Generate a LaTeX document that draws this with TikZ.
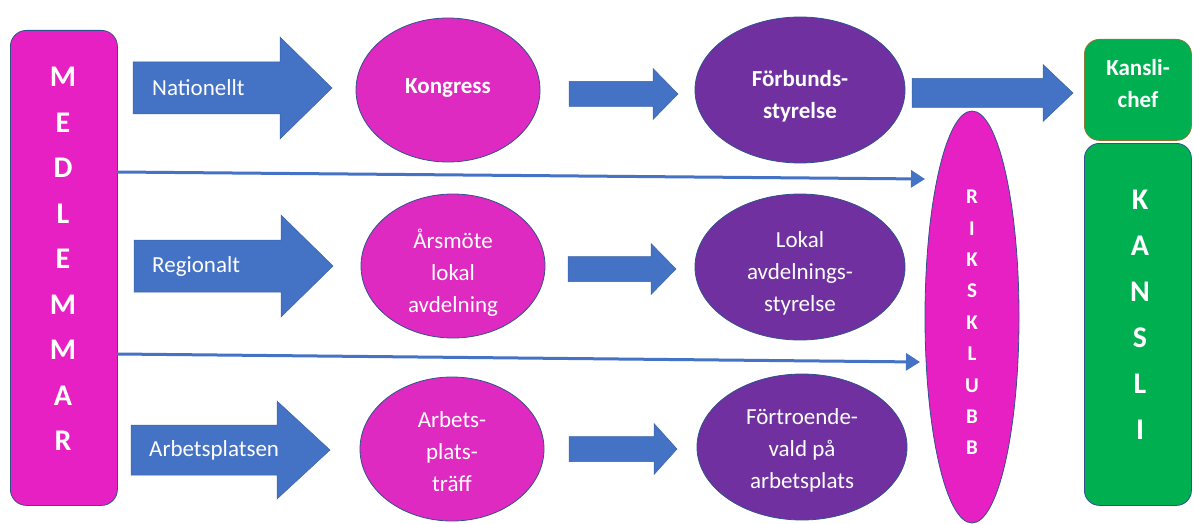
\documentclass[tikz,border=0pt]{standalone}
\usepackage{fontspec}
\setmainfont{Carlito}
\usetikzlibrary{shapes.geometric,arrows.meta}
\definecolor{mag}{RGB}{230,32,194}
\definecolor{magel}{RGB}{222,42,192}
\definecolor{purp}{RGB}{112,48,160}
\definecolor{blu}{RGB}{68,114,196}
\definecolor{grn}{RGB}{0,176,80}
\definecolor{edgeblue}{RGB}{47,82,143}
\definecolor{olivebrd}{RGB}{140,120,50}
\tikzset{
  ell/.style={ellipse, draw=edgeblue, line width=0.8pt, inner sep=0pt},
  magell/.style={ell, fill=magel, minimum width=184pt, minimum height=144pt},
  purpell/.style={ell, fill=purp, minimum width=210pt, minimum height=146pt},
  elltxt/.style={text=white, align=center, inner sep=0pt, font=\fontsize{23}{32}\selectfont},
  elltxtb/.style={elltxt, font=\bfseries\fontsize{23}{32}\selectfont},
  blk/.style={fill=blu, draw=blu!85!black, line width=0.5pt},
  lbl/.style={text=white, font=\fontsize{23}{26}\selectfont, anchor=west, inner sep=0pt},
  memarrow/.style={draw=blu, line width=3pt, -{Triangle[length=14pt,width=17pt]}},
  bigletters/.style={text=white, font=\bfseries\fontsize{30}{45.5}\selectfont, align=center, inner sep=0pt},
  boxgreen/.style={fill=grn, rounded corners=15pt, line width=0.8pt, minimum width=107pt, anchor=north west, inner sep=0pt}
}
\newcommand\blockarrow[6]{%
  \fill[blk] (#1,#4-#5) -- (#2,#4-#5) -- (#2,#4-#6) -- (#3,#4) -- (#2,#4+#6) -- (#2,#4+#5) -- (#1,#4+#5) -- cycle;}
\begin{document}
\begin{tikzpicture}[x=1pt,y=-1pt]
\useasboundingbox (0,0) rectangle (1193,524);
% Medlemmar
\node[draw=edgeblue, fill=mag, line width=0.8pt, rounded corners=16pt, minimum width=107pt, minimum height=475pt, anchor=north west, inner sep=0pt] (med) at (10,30) {};
\node[bigletters] (medtxt) at (63,259) {M\\E\\D\\L\\E\\M\\M\\A\\R};
% block arrows with labels
\blockarrow{133}{280}{332}{88}{26}{51}
\node[lbl] (nat) at (152,88) {Nationellt};
\blockarrow{134}{281}{333}{266}{26}{51}
\node[lbl] (reg) at (152,266) {Regionalt};
\blockarrow{131}{277}{330}{450}{25}{49}
\node[lbl] (arb) at (149,450) {Arbetsplatsen};
% ellipses
\node[magell] (kong) at (448,90) {};
\node[elltxtb] (kongtxt) at ([yshift=2pt]kong.center) {Kongress};
\node[purpell] (fs) at (800,90) {};
\node[elltxtb] (fstxt) at ([yshift=-6pt]fs.center) {Förbunds-\\styrelse};
\node[magell] (arsm) at (453,266) {};
\node[elltxt] (arsmtxt) at ([yshift=-7pt]arsm.center) {Årsmöte\\lokal\\avdelning};
\node[purpell] (lok) at (800,267) {};
\node[elltxt] (loktxt) at ([yshift=-6pt]lok.center) {Lokal\\avdelnings-\\styrelse};
\node[magell] (arbt) at (452,449) {};
\node[elltxt] (arbttxt) at ([yshift=-3pt]arbt.center) {Arbets-\\plats-\\träff};
\node[purpell] (fort) at (802,447) {};
\node[elltxt] (forttxt) at ([yshift=-3pt]fort.center) {Förtroende-\\vald på\\arbetsplats};
% small arrows
\blockarrow{569}{653}{678}{94}{12.5}{25.5}
\blockarrow{568}{651}{676}{269}{12.5}{25.5}
\blockarrow{569}{654}{677}{449}{12.5}{25.5}
\blockarrow{912}{1043}{1073}{93}{14.5}{28.5}
% Riksklubb
\node[ellipse, draw=edgeblue, fill=mag, line width=0.8pt, minimum width=94pt, minimum height=412pt, inner sep=0pt] (riks) at (972,317) {};
\node[text=white, font=\bfseries\fontsize{21}{31.4}\selectfont, align=center, inner sep=0pt] (rikstxt) at (972,322.5) {R\\I\\K\\S\\K\\L\\U\\B\\B};
% Kansli
\node[boxgreen, draw=olivebrd, minimum height=101pt] (kc) at (1084,39) {};
\node[text=white, font=\bfseries\fontsize{23}{32}\selectfont, align=center, inner sep=0pt] (kctxt) at (1138,84) {Kansli-\\chef};
\node[boxgreen, draw=edgeblue, minimum height=362pt] (kan) at (1084,143) {};
\node[bigletters, font=\bfseries\fontsize{30}{46}\selectfont] (kantxt) at (1140,315) {K\\A\\N\\S\\L\\I};
% member arrows
\coordinate (m1) at (117,172);
\coordinate (r1) at (925,179);
\coordinate (m2) at (117,354);
\coordinate (r2) at (920,362);
\draw[memarrow] (m1) -- (r1);
\draw[memarrow] (m2) -- (r2);
\end{tikzpicture}
\end{document}
